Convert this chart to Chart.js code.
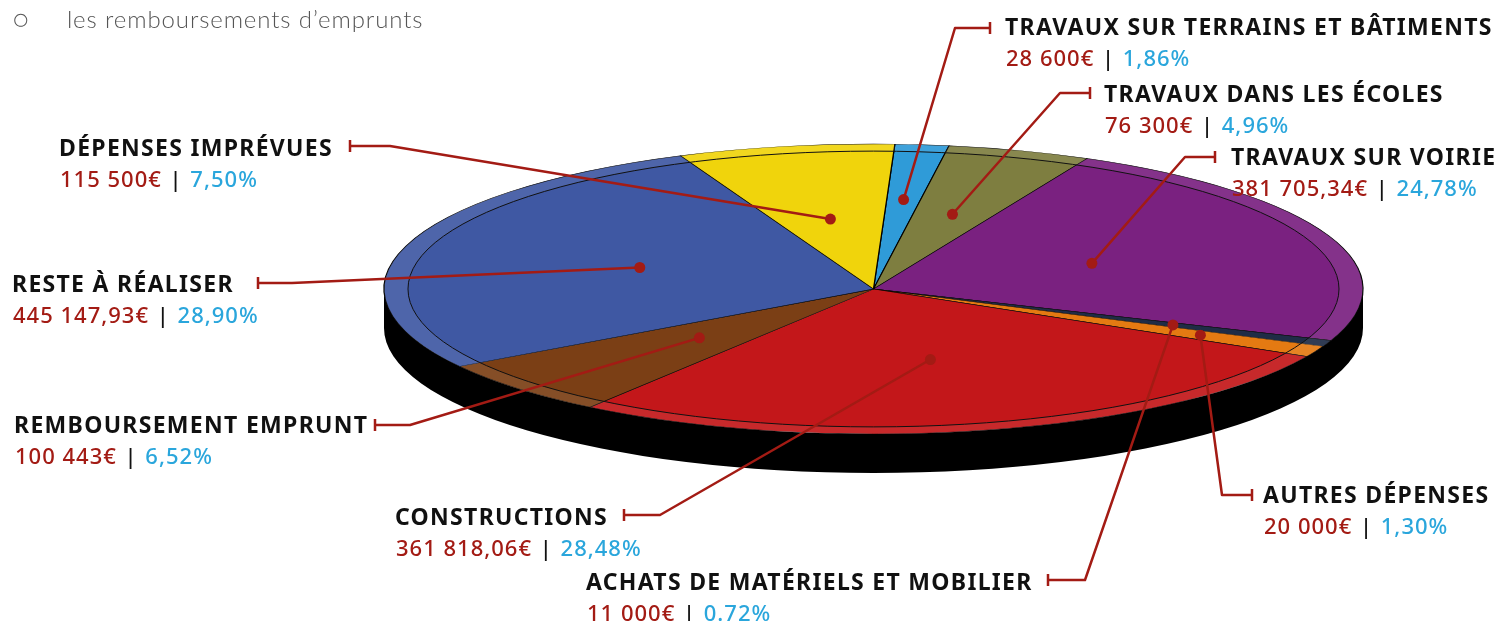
<!DOCTYPE html>
<html>
<head>
<meta charset="utf-8">
<script src="https://cdn.jsdelivr.net/npm/chart.js@4.4.0/dist/chart.umd.min.js"></script>
<style>
  html, body { margin: 0; padding: 0; background: #fff; }
  #wrap { position: relative; width: 1499px; height: 621px; overflow: hidden; }
  #note { position: absolute; left: 13px; top: 4px; font: 300 24px Lato, "Open Sans", sans-serif; color: #555; white-space: pre; letter-spacing: 0.9px; }
</style>
</head>
<body>
<div id="wrap">
  <canvas id="budget-pie" width="1499" height="621"></canvas>
  <div id="note">○     les remboursements d’emprunts</div>
</div>
<script>
// values (slice sizes follow the printed percentages)
var categories = [
  "TRAVAUX SUR TERRAINS ET BÂTIMENTS",
  "TRAVAUX DANS LES ÉCOLES",
  "TRAVAUX SUR VOIRIE",
  "ACHATS DE MATÉRIELS ET MOBILIER",
  "AUTRES DÉPENSES",
  "CONSTRUCTIONS",
  "REMBOURSEMENT EMPRUNT",
  "RESTE À RÉALISER",
  "DÉPENSES IMPRÉVUES"
];
var shares = [1.86, 4.96, 24.78, 0.72, 1.30, 28.48, 6.52, 28.90, 7.50];
var amountTexts = ["28 600€", "76 300€", "381 705,34€", "11 000€", "20 000€", "361 818,06€", "100 443€", "445 147,93€", "115 500€"];
var shareTexts = ["1,86%", "4,96%", "24,78%", "0.72%", "1,30%", "28,48%", "6,52%", "28,90%", "7,50%"];
var sliceColors = ["#2f9bd8", "#7e7e40", "#7a2180", "#1f2c46", "#e47a12", "#c3171a", "#7b3f15", "#3f58a3", "#f0d40c"];

// label placement: text x, name baseline, tick x, elbow x, leader y, anchor radius fraction
var labelLayout = [
  { x: 1005, y: 35,  tick: 990,  elbow: 955,  ly: 28,  frac: 0.62 },
  { x: 1104, y: 102, tick: 1090, elbow: 1060, ly: 93,  frac: 0.54 },
  { x: 1231, y: 165, tick: 1215, elbow: 1185, ly: 157, frac: 0.48 },
  { x: 586,  y: 590, tick: 1048, elbow: 1085, ly: 580, frac: 0.66 },
  { x: 1263, y: 503, tick: 1252, elbow: 1222, ly: 495, frac: 0.74 },
  { x: 395,  y: 525, tick: 624,  elbow: 660,  ly: 515, frac: 0.5 },
  { x: 14,   y: 433, tick: 375,  elbow: 410,  ly: 425, frac: 0.49 },
  { x: 12,   y: 292, tick: 258,  elbow: 292,  ly: 283, frac: 0.5 },
  { x: 59,   y: 156, tick: 350,  elbow: 390,  ly: 146, frac: 0.49 }
];

// ellipse of the tilted pie on screen
var CX = 873.5, CY = 289, RX = 489.5, RY = 145, DEPTH = 39;
var LINE_RED = "#a31b14";

var pie3d = {
  id: "pie3d",
  beforeDatasetsDraw: function (chart) {
    var ctx = chart.ctx;
    var arc = chart.getDatasetMeta(0).data[0];
    // black side of the disc
    ctx.save();
    ctx.fillStyle = "#000";
    ctx.beginPath();
    ctx.ellipse(CX, CY + DEPTH, RX, RY, 0, 0, Math.PI);
    ctx.lineTo(CX - RX, CY);
    ctx.ellipse(CX, CY, RX, RY, 0, Math.PI, 0, true);
    ctx.closePath();
    ctx.fill();
    ctx.restore();
    // squash the round pie into the ellipse
    ctx.save();
    var k = RX / arc.outerRadius, m = RY / arc.outerRadius;
    ctx.translate(CX, CY);
    ctx.scale(k, m);
    ctx.translate(-arc.x, -arc.y);
  },
  afterDatasetsDraw: function (chart) {
    var ctx = chart.ctx;
    ctx.restore();
    var arcs = chart.getDatasetMeta(0).data;
    // lighter rim band
    ctx.save();
    ctx.fillStyle = "rgba(255,255,255,0.08)";
    arcs.forEach(function (a) {
      ctx.beginPath();
      ctx.ellipse(CX, CY, RX, RY, 0, a.startAngle, a.endAngle);
      ctx.ellipse(CX, CY, RX * 0.951, RY * 0.951, 0, a.endAngle, a.startAngle, true);
      ctx.closePath();
      ctx.fill();
    });
    ctx.strokeStyle = "#111";
    ctx.lineWidth = 1;
    ctx.beginPath();
    ctx.ellipse(CX, CY, RX * 0.951, RY * 0.951, 0, 0, Math.PI * 2);
    ctx.stroke();
    ctx.restore();
  },
  afterDraw: function (chart) {
    var ctx = chart.ctx;
    var arcs = chart.getDatasetMeta(0).data;
    ctx.save();
    arcs.forEach(function (a, i) {
      var p = labelLayout[i];
      var mid = (a.startAngle + a.endAngle) / 2;
      var dx = CX + RX * p.frac * Math.cos(mid);
      var dy = CY + RY * p.frac * Math.sin(mid);
      ctx.strokeStyle = LINE_RED;
      ctx.lineWidth = 2.5;
      ctx.lineJoin = "round";
      ctx.beginPath();
      ctx.moveTo(p.tick, p.ly - 6);
      ctx.lineTo(p.tick, p.ly + 6);
      ctx.moveTo(p.tick, p.ly);
      ctx.lineTo(p.elbow, p.ly);
      ctx.lineTo(dx, dy);
      ctx.stroke();
      ctx.fillStyle = LINE_RED;
      ctx.beginPath();
      ctx.arc(dx, dy, 5.5, 0, Math.PI * 2);
      ctx.fill();

      // name
      ctx.letterSpacing = "1.3px";
      ctx.font = "bold 23px 'Noto Sans'";
      ctx.fillStyle = "#111";
      ctx.textBaseline = "alphabetic";
      ctx.fillText(categories[i], p.x, p.y);
      // amount | share
      ctx.letterSpacing = "1px";
      ctx.font = "500 22px 'Noto Sans'";
      var x = p.x + 1, y2 = p.y + 31;
      ctx.fillStyle = LINE_RED;
      ctx.fillText(amountTexts[i], x, y2);
      x += ctx.measureText(amountTexts[i]).width;
      ctx.fillStyle = "#111";
      ctx.fillText(" | ", x + 1, y2);
      x += ctx.measureText(" | ").width + 2;
      ctx.fillStyle = "#2aa6dc";
      ctx.fillText(shareTexts[i], x, y2);
    });
    ctx.restore();
  }
};

var ctx = document.getElementById("budget-pie").getContext("2d");
new Chart(ctx, {
  type: "pie",
  data: {
    labels: categories,
    datasets: [{
      data: shares,
      backgroundColor: sliceColors,
      borderColor: "#000",
      borderWidth: 0.8
    }]
  },
  options: {
    responsive: false,
    animation: false,
    rotation: 2.5,
    layout: { padding: 0 },
    events: [],
    plugins: {
      legend: { display: false },
      tooltip: { enabled: false }
    }
  },
  plugins: [pie3d]
});
</script>
</body>
</html>
